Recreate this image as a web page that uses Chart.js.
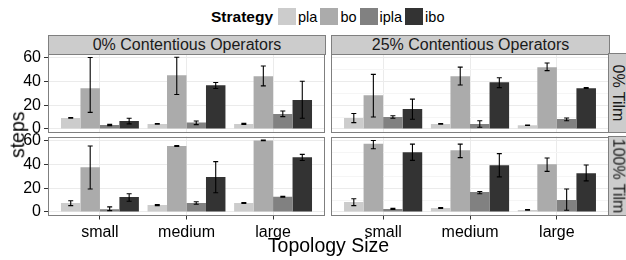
<!DOCTYPE html>
<html lang="en">
<head>
<meta charset="UTF-8">
<title>steps by topology size</title>
<script src="https://cdn.jsdelivr.net/npm/chart.js"></script>
<style>
  body { margin: 0; background: #fff; font-family: "Liberation Sans", Arial, sans-serif; color: #000; }
  #wrap { position: relative; width: 626px; height: 260px; overflow: hidden; }
  canvas { position: absolute; left: 0; top: 0; }
  .strip { position: absolute; box-sizing: border-box; background: #cccccc; border: 1px solid #7f7f7f;
           font-size: 16px; color: #1a1a1a; display: flex; align-items: center; justify-content: center; white-space: nowrap; }
  .strip.v span { transform: rotate(90deg); }
  #legend { position: absolute; left: 211px; top: 8px; display: flex; align-items: center; font-size: 14.5px; height: 17px; }
  #legend b { font-size: 15.5px; margin-right: 2px; }
  #legend i { display: inline-block; width: 18px; height: 17px; margin: 0 2px 0 3px; }
  .title { position: absolute; font-size: 19.5px; line-height: 1; white-space: nowrap; }
</style>
</head>
<body>
<div id="wrap">
  <div id="legend"><b>Strategy</b></div>

  <canvas id="tl" width="626" height="260"></canvas>
  <canvas id="tr" width="626" height="260"></canvas>
  <canvas id="bl" width="626" height="260"></canvas>
  <canvas id="br" width="626" height="260"></canvas>

  <div class="strip" style="left:48px; top:35px; width:278px; height:20px;">0% Contentious Operators</div>
  <div class="strip" style="left:331px; top:35px; width:279px; height:20px;">25% Contentious Operators</div>
  <div class="strip v" style="left:608px; top:53px; width:21px; height:80px;"><span>0% Tilm</span></div>
  <div class="strip v" style="left:608px; top:136px; width:21px; height:80px;"><span>100% Tilm</span></div>

  <div class="title" style="left:0; top:235.5px; width:657px; text-align:center;">Topology Size</div>
  <div class="title" style="left:-32px; top:125px; width:100px; text-align:center; transform: rotate(-90deg);">steps</div>
</div>

<script>
const sizes = ['small', 'medium', 'large'];
const strategies = ['pla', 'bo', 'ipla', 'ibo'];
const fills = ['#cccccc', '#ababab', '#818181', '#333333'];
const yTicks = [0, 20, 40, 60];
const yMinor = [10, 30, 50];

// rows: pla, bo, ipla, ibo; columns: small, medium, large
// 0% contentious, 0% Tilm
const c0t0Mean = [[9.2, 4.2, 4.2], [34.2, 45.0, 44.2], [3.3, 5.3, 12.5], [6.7, 36.7, 24.2]];
const c0t0Low  = [[8.9, 3.9, 3.8], [13.9, 28.9, 36.1], [2.8, 3.6, 10.3], [4.2, 33.9, 8.9]];
const c0t0High = [[9.5, 4.5, 4.8], [59.9, 60.2, 52.8], [3.8, 6.7, 15.0], [8.9, 38.9, 40.0]];

// 25% contentious, 0% Tilm
const c25t0Mean = [[9.2, 4.2, 3.1], [28.3, 44.2, 51.7], [10.0, 4.2, 8.3], [16.7, 39.2, 34.2]];
const c25t0Low  = [[5.3, 3.9, 2.9], [10.0, 36.9, 48.9], [8.9, 1.4, 6.9], [8.1, 34.7, 33.9]];
const c25t0High = [[13.0, 4.5, 3.3], [45.8, 51.9, 55.3], [11.1, 6.9, 9.2], [25.0, 43.0, 34.7]];

// 0% contentious, 100% Tilm
const c0t100Mean = [[7.5, 5.8, 7.5], [37.5, 55.3, 60.0], [2.2, 7.5, 12.8], [12.5, 29.4, 45.8]];
const c0t100Low  = [[5.3, 5.3, 7.1], [19.2, 55.0, 59.7], [1.1, 6.4, 12.4], [8.9, 16.1, 43.1]];
const c0t100High = [[9.4, 6.1, 7.9], [55.3, 55.6, 60.3], [4.2, 8.6, 13.2], [15.3, 42.2, 48.3]];

// 25% contentious, 100% Tilm
const c25t100Mean = [[8.3, 3.3, 1.7], [57.2, 51.7, 40.0], [2.5, 16.7, 10.0], [50.0, 39.2, 32.5]];
const c25t100Low  = [[5.3, 3.0, 1.5], [53.0, 45.6, 34.0], [2.0, 15.3, 1.4], [43.3, 29.4, 26.1]];
const c25t100High = [[11.1, 3.6, 1.9], [60.0, 56.9, 45.3], [3.0, 17.2, 19.2], [56.9, 48.9, 39.4]];

// legend
const legend = document.getElementById('legend');
strategies.forEach((s, i) => {
    const sw = document.createElement('i');
    sw.style.background = fills[i];
    legend.appendChild(sw);
    const t = document.createElement('span');
    t.textContent = s;
    legend.appendChild(t);
});

const errorBars = {
    id: 'errorBars',
    afterDatasetsDraw(chart) {
        const ctx = chart.ctx;
        const y = chart.scales.y;
        ctx.save();
        ctx.strokeStyle = '#000';
        ctx.lineWidth = 1.1;
        chart.data.datasets.forEach((ds, i) => {
            chart.getDatasetMeta(i).data.forEach((bar, j) => {
                const top = y.getPixelForValue(ds.errHigh[j]);
                const bot = y.getPixelForValue(ds.errLow[j]);
                const x = bar.x;
                ctx.beginPath();
                ctx.moveTo(x, top); ctx.lineTo(x, bot);
                ctx.moveTo(x - 2.5, top); ctx.lineTo(x + 2.5, top);
                ctx.moveTo(x - 2.5, bot); ctx.lineTo(x + 2.5, bot);
                ctx.stroke();
            });
        });
        ctx.restore();
    }
};

const panelBorder = {
    id: 'panelBorder',
    afterDraw(chart) {
        const a = chart.chartArea;
        const ctx = chart.ctx;
        ctx.save();
        ctx.strokeStyle = '#7f7f7f';
        ctx.lineWidth = 1;
        ctx.strokeRect(Math.round(a.left) + 0.5, Math.round(a.top) + 0.5,
                       Math.round(a.right - a.left) - 1, Math.round(a.bottom - a.top) - 1);
        ctx.restore();
    }
};

function makePanel(id, mean, low, high, box, showY, showX) {
    const yW = showY ? 48 : 0;
    const xH = showX ? 30 : 0;
    return new Chart(document.getElementById(id), {
        type: 'bar',
        data: {
            datasets: strategies.map((s, i) => ({
                label: s,
                data: sizes.map((z, j) => ({ x: j + 1, y: mean[i][j] })),
                errLow: low[i],
                errHigh: high[i],
                backgroundColor: fills[i],
                borderWidth: 0,
                categoryPercentage: 0.9,
                barPercentage: 1.0
            }))
        },
        options: {
            responsive: false,
            animation: false,
            devicePixelRatio: 1,
            layout: { padding: { left: box[0] - yW, top: box[1], right: 626 - box[2], bottom: 260 - box[3] - xH } },
            plugins: { legend: { display: false }, tooltip: { enabled: false } },
            scales: {
                x: {
                    type: 'linear',
                    min: 0.4, max: 3.6,
                    offset: false,
                    afterBuildTicks: s => { s.ticks = sizes.map((z, j) => ({ value: j + 1 })); },
                    afterFit: s => { s.height = xH; },
                    border: { display: false },
                    grid: { offset: false, color: '#ebebeb', drawTicks: showX, tickLength: 4, tickColor: '#333' },
                    ticks: { display: showX, padding: 3, color: '#000', font: { family: 'Liberation Sans', size: 16 },
                             callback: v => sizes[v - 1], maxRotation: 0, autoSkip: false }
                },
                y: {
                    min: -3, max: 63.3,
                    afterBuildTicks: s => { s.ticks = yTicks.concat(yMinor).sort((a, b) => a - b).map(v => ({ value: v })); },
                    afterFit: s => { s.width = yW; },
                    border: { display: false },
                    grid: {
                        color: c => yTicks.includes(c.tick.value) ? '#ebebeb' : '#f5f5f5',
                        drawTicks: showY, tickLength: 4,
                        tickColor: c => yTicks.includes(c.tick.value) ? '#333' : 'rgba(0,0,0,0)'
                    },
                    ticks: { display: showY, padding: 3, color: '#000', font: { family: 'Liberation Sans', size: 16 },
                             callback: v => yTicks.includes(v) ? String(v) : '' }
                }
            }
        },
        plugins: [errorBars, panelBorder]
    });
}

makePanel('tl', c0t0Mean, c0t0Low, c0t0High, [48, 53.5, 325, 132.5], true, false);
makePanel('tr', c25t0Mean, c25t0Low, c25t0High, [331, 53.5, 609, 132.5], false, false);
makePanel('bl', c0t100Mean, c0t100Low, c0t100High, [48, 136.5, 325, 215.5], true, true);
makePanel('br', c25t100Mean, c25t100Low, c25t100High, [331, 136.5, 609, 215.5], false, true);
</script>
</body>
</html>
